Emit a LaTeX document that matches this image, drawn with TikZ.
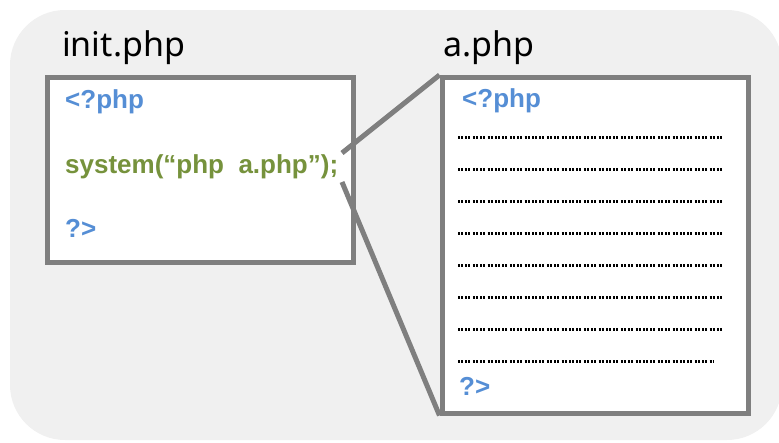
\documentclass[tikz,border=0pt]{standalone}
\usepackage{fontspec}
\setmainfont{Noto Sans}
\newfontfamily\phpfont{Liberation Sans}
\usetikzlibrary{positioning}
\definecolor{panelgray}{HTML}{F0F0F0}
\definecolor{framegray}{HTML}{7F7F7F}
\definecolor{tagblue}{HTML}{558ED5}
\definecolor{callgreen}{HTML}{76923C}
\tikzstyle{file} = [rectangle,
			draw = framegray,
			line width = 5pt,
			fill = white,
			anchor = north west,
			inner sep = 0pt]
\tikzstyle{title} = [anchor = base west,
			inner sep = 0pt,
			font = \fontsize{34}{34}\selectfont]
\tikzstyle{code} = [anchor = base west,
			inner sep = 0pt,
			font = \phpfont\bfseries\fontsize{26}{26}\selectfont]
\tikzstyle{line} = [draw = framegray, line width = 5pt]
\tikzstyle{dots} = [draw, line width = 3pt,
			dash pattern = on 2pt off 1pt on 2pt off 2.4pt]

\begin{document}
\begin{tikzpicture}[x = 1pt, y = -1pt]
	\useasboundingbox (0,0) rectangle (779,442);
	\fill [panelgray, rounded corners = 55pt] (10,10) rectangle (782,440);
	% init.php
	\node [title] (initTitle) at (62,56) {init.php};
	\node [file, minimum width = 306pt, minimum height = 184.5pt] (initBox) at (45,75) {};
	\node [code, text = tagblue] (initOpen) at (65,108) {<?php};
	\node [code, text = callgreen] (initCall) at (65,173) {system(“php\ \ a.php”);};
	\node [code, text = tagblue] (initClose) at (65,237) {?>};
	% a.php
	\node [title] (aTitle) at (443,56) {a.php};
	\node [file, minimum width = 306pt, minimum height = 335.5pt] (aBox) at (439.5,75) {};
	\node [code, text = tagblue] (aOpen) at (462,107) {<?php};
	\foreach \y/\xe in {137/723, 169/723, 201/723, 233/723, 265/723, 297/723, 329/723, 361/714}
		\path [dots] (458,\y) -- (\xe,\y);
	\node [code, text = tagblue] (aClose) at (459,395) {?>};
	% call lines
	\coordinate (callTop) at (342,153);
	\coordinate (callBot) at (342,182);
	\path [line] (callTop) -- (aBox.north west);
	\path [line] (callBot) -- (aBox.south west);
\end{tikzpicture}
\end{document}
